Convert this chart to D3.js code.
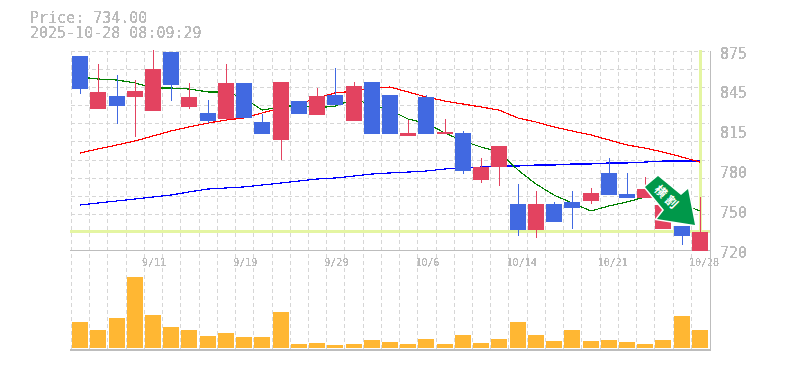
<!DOCTYPE html>
<html>
<head>
<meta charset="utf-8">
<script src="https://cdn.jsdelivr.net/npm/d3@7"></script>
<style>
  html, body { margin: 0; padding: 0; background: #fff; }
  svg { display: block; }
  text { font-family: "DejaVu Sans Mono", monospace; fill: #bbb; }
</style>
</head>
<body>
<div id="chart"></div>
<script>
const priceLabel = "Price: 734.00";
const timeLabel = "2025-10-28 08:09:29";
const signalLabel = "横割";

const dates = ["9/5","9/8","9/9","9/10","9/11","9/12","9/16","9/17","9/18","9/19",
  "9/22","9/24","9/25","9/26","9/29","9/30","10/1","10/2","10/3","10/6",
  "10/7","10/8","10/9","10/10","10/14","10/15","10/16","10/17","10/20","10/21",
  "10/22","10/23","10/24","10/27","10/28"];

const opens = [871.1,829.8,839.9,839.2,828.3,874.2,831.4,826.7,822.0,850.1,
  819.7,805.7,836.0,825.1,840.7,820.5,850.8,840.7,808.8,839.2,
  810.3,811.1,774.5,784.6,755.8,735.6,755.8,757.4,758.2,780.0,
  763.6,760.5,736.4,738.7,719.2];
const highs = [871.1,864.9,856.3,852.4,875.8,874.2,850.1,836.8,864.9,850.1,
  825.9,850.8,836.0,846.2,861.7,850.8,850.8,840.7,821.2,840.7,
  822.0,812.7,791.6,801.0,771.4,765.9,757.4,765.9,768.3,791.6,
  780.0,776.9,755.0,738.7,761.3];
const lows = [841.5,829.8,818.1,808.0,828.3,836.0,829.8,818.9,821.2,822.8,
  810.3,790.1,825.9,825.1,832.9,820.5,810.3,810.3,808.8,810.3,
  810.3,779.2,772.2,769.8,730.9,729.3,741.8,736.4,755.8,762.8,
  760.5,760.5,736.4,723.9,719.2];
const closes = [845.4,843.1,832.1,843.8,861.0,848.5,839.2,820.5,850.1,822.8,
  810.3,850.8,825.9,839.9,832.9,847.7,810.3,810.3,811.1,810.3,
  811.9,781.5,784.6,801.0,735.6,755.8,741.8,752.7,764.4,762.8,
  760.5,767.5,755.0,730.9,734.0];
const volumes = [26,18,30,71,33,21,18,12,15,11,11,36,4,5,3,4,8,6,
  4,9,4,13,5,9,26,13,7,18,7,8,6,4,8,32,18];

const maShort = [854.7,853.2,852.4,850.1,846.2,846.2,845.4,843.1,843.1,838.4,
  829.0,831.4,832.9,830.6,832.1,837.6,832.9,829.0,822.0,818.9,
  811.1,804.9,800.2,796.3,782.3,771.4,762.8,756.6,750.4,754.3,
  757.4,761.3,761.3,755.8,750.4];
const maMid = [795.5,798.7,801.8,804.9,808.8,812.7,815.8,818.9,821.2,822.8,
  826.7,830.6,833.7,838.4,842.3,843.8,846.2,846.9,843.1,839.2,
  836.0,833.7,831.4,829.0,822.8,819.7,815.8,812.7,809.6,805.7,
  801.8,799.4,796.3,792.4,788.5];
const maLong = [755.0,756.6,758.2,759.7,761.3,762.8,765.2,767.5,768.3,769.1,
  770.6,772.2,773.7,775.3,776.1,777.6,779.2,780.0,780.7,781.5,
  783.1,783.9,784.6,785.4,785.4,786.2,786.2,787.0,787.0,787.8,
  787.8,788.5,789.3,789.3,789.3];

const currentPrice = 734;
const yTickValues = [720,751,782,813,844,875];
const yTickLabels = ["720","750","780","815","845","875"];
const xTickDates = ["9/11","9/19","9/29","10/6","10/14","10/21","10/28"];

const chartW = 785, chartH = 370;
const plotLeft = 71, plotRight = 709, plotTop = 51, priceBottom = 250, volBottom = 348, volAxis = 350;
const barW = 16;

const svg = d3.select("#chart").append("svg")
  .attr("width", chartW)
  .attr("height", chartH);

// makes the text hard edged like the old image charts
const defs = svg.append("defs");
defs.append("filter").attr("id", "hard")
  .attr("filterUnits", "userSpaceOnUse")
  .attr("x", -chartW).attr("y", -chartH).attr("width", chartW * 2).attr("height", chartH * 2)
  .append("feComponentTransfer")
  .append("feFuncA").attr("type", "discrete").attr("tableValues", "0 1 1");

const x = d3.scaleBand().domain(dates).range([plotLeft, plotRight]);
const cx = d => Math.round(x(d) + x.bandwidth() / 2);
const y = d3.scaleLinear().domain([720, 875]).range([priceBottom, plotTop]);
const yVol = d3.scaleLinear().domain([0, d3.max(volumes)]).range([volBottom, volBottom - d3.max(volumes)]);
const gridY = d3.scaleLinear().domain([0, 11]).range([priceBottom, plotTop]);

// GRID ==========
const grid = svg.append("g")
  .attr("stroke", "#d6d6d6")
  .attr("stroke-dasharray", "4,3")
  .attr("shape-rendering", "crispEdges");

grid.selectAll("line.v")
  .data(dates)
  .join("line")
  .attr("class", "v")
  .attr("x1", d => Math.round(x(d)))
  .attr("x2", d => Math.round(x(d)))
  .attr("y1", plotTop)
  .attr("y2", volAxis);

grid.selectAll("line.h")
  .data(d3.range(1, 12))
  .join("line")
  .attr("class", "h")
  .attr("x1", plotLeft)
  .attr("x2", plotRight)
  .attr("y1", d => Math.round(gridY(d)))
  .attr("y2", d => Math.round(gridY(d)));

// FRAME ==========
const frame = svg.append("g")
  .attr("stroke", "#bdbdbd")
  .attr("shape-rendering", "crispEdges");
frame.append("line").attr("x1", plotRight + 1).attr("x2", plotRight + 1).attr("y1", plotTop).attr("y2", volAxis + 1);
frame.append("line").attr("x1", plotLeft - 1).attr("x2", plotRight + 1).attr("y1", priceBottom).attr("y2", priceBottom);
frame.append("line").attr("x1", plotLeft - 1).attr("x2", plotRight + 2).attr("y1", volAxis).attr("y2", volAxis).attr("stroke-width", 2);

// CURRENT PRICE MARKER ==========
const marker = svg.append("g")
  .attr("stroke", "#e4f5a2")
  .attr("stroke-width", 3)
  .attr("shape-rendering", "crispEdges");
marker.append("line").attr("x1", plotLeft - 1).attr("x2", plotRight + 1)
  .attr("y1", Math.round(y(currentPrice)) - 0.5).attr("y2", Math.round(y(currentPrice)) - 0.5);
marker.append("line").attr("x1", cx(dates[dates.length - 1]) + 0.5).attr("x2", cx(dates[dates.length - 1]) + 0.5)
  .attr("y1", plotTop - 1).attr("y2", Math.round(y(currentPrice)));

// MOVING AVERAGES ==========
const maLine = d3.line()
  .x((_, i) => cx(dates[i]))
  .y(d => y(d));

[[maLong, "#0000ff"], [maMid, "#ff0000"], [maShort, "#008000"]].forEach(([values, color]) => {
  svg.append("path")
    .datum(values)
    .attr("d", maLine)
    .attr("fill", "none")
    .attr("stroke", color)
    .attr("stroke-width", 1.2)
    .attr("shape-rendering", "crispEdges");
});

// CANDLES ==========
const upColor = "#e34360", downColor = "#4169e1";
const candles = dates.map((d, i) => ({date: d, o: opens[i], h: highs[i], l: lows[i], c: closes[i]}));

const candle = svg.append("g")
  .attr("shape-rendering", "crispEdges")
  .selectAll("g")
  .data(candles)
  .join("g")
  .attr("fill", d => d.c >= d.o ? upColor : downColor)
  .attr("stroke", d => d.c >= d.o ? upColor : downColor);

candle.append("line")
  .attr("x1", d => cx(d.date))
  .attr("x2", d => cx(d.date))
  .attr("y1", d => y(d.h))
  .attr("y2", d => y(d.l));

candle.append("rect")
  .attr("x", d => cx(d.date) - barW / 2)
  .attr("width", barW)
  .attr("y", d => Math.round(y(Math.max(d.o, d.c))))
  .attr("height", d => Math.round(y(Math.min(d.o, d.c))) - Math.round(y(Math.max(d.o, d.c))))
  .attr("stroke", "none");

// VOLUME ==========
svg.append("g")
  .attr("shape-rendering", "crispEdges")
  .selectAll("rect")
  .data(volumes)
  .join("rect")
  .attr("x", (_, i) => cx(dates[i]) - barW / 2)
  .attr("width", barW)
  .attr("y", d => yVol(d))
  .attr("height", d => volBottom - yVol(d))
  .attr("fill", "#ffb733");

// AXES ==========
const xAxis = svg.append("g")
  .attr("transform", `translate(0,${priceBottom + 16})`)
  .attr("filter", "url(#hard)")
  .call(d3.axisBottom(x).tickValues(xTickDates).tickSize(0).tickPadding(0));
xAxis.select(".domain").remove();
xAxis.selectAll("text")
  .attr("y", 0)
  .attr("dy", 0)
  .attr("dx", -11)
  .style("text-anchor", "start")
  .style("font-family", '"DejaVu Sans Mono", monospace')
  .style("font-size", "10px")
  .style("fill", "#bbb");

const yAxis = svg.append("g")
  .attr("transform", "translate(720,0)")
  .attr("filter", "url(#hard)")
  .call(d3.axisRight(y).tickValues(yTickValues)
    .tickFormat((_, i) => yTickLabels[i]).tickSize(0).tickPadding(0));
yAxis.select(".domain").remove();
yAxis.selectAll("text")
  .attr("x", 0)
  .attr("dy", 7)
  .style("font-family", '"DejaVu Sans Mono", monospace')
  .style("font-size", "15px")
  .style("fill", "#bbb");

// TITLE ==========
const title = svg.append("g")
  .attr("filter", "url(#hard)")
  .style("font-size", "15px");
title.append("text").attr("x", 30).attr("y", 23).text(priceLabel);
title.append("text").attr("x", 30).attr("y", 38).text(timeLabel);

// SIGNAL ARROW ==========
const tipX = cx(dates[dates.length - 1]) - 5;
const tipY = y(currentPrice) - 7;
const arrow = svg.append("g").attr("transform", `translate(${tipX},${tipY})`);

arrow.append("path")
  .attr("d", "M0,0 L-38,-6 L-31,-15 L-50,-38 L-37,-49 L-14,-30 L-7,-36 Z")
  .attr("fill", "#00984a")
  .attr("stroke", "#fff")
  .attr("stroke-width", 3)
  .attr("paint-order", "stroke")
  .attr("stroke-linejoin", "miter");

arrow.append("text")
  .attr("transform", "translate(-28,-27) rotate(45)")
  .attr("text-anchor", "middle")
  .attr("dy", 4)
  .style("font-family", '"Noto Sans CJK JP"')
  .style("font-size", "12px")
  .style("font-weight", "700")
  .style("letter-spacing", "3px")
  .style("fill", "#fff")
  .text(signalLabel);
</script>
</body>
</html>
